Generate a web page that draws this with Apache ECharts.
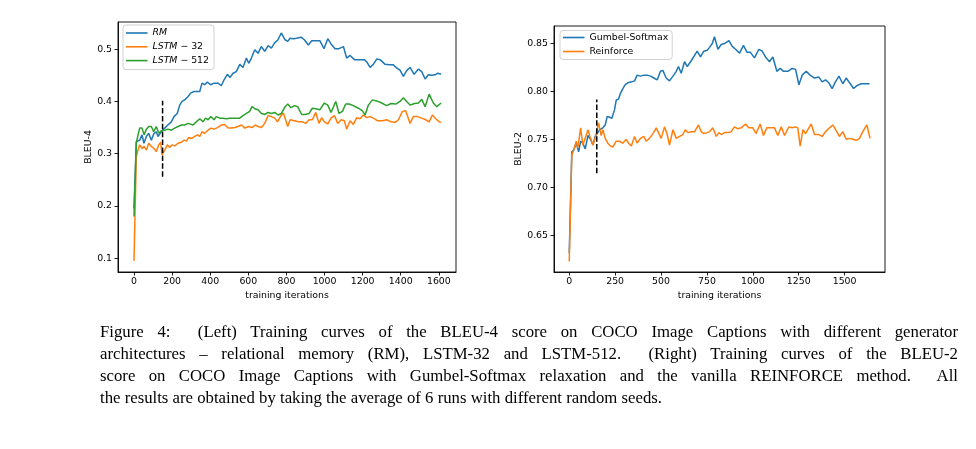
<!DOCTYPE html>
<html>
<head>
<meta charset="utf-8">
<script src="https://cdn.jsdelivr.net/npm/echarts@6/dist/echarts.min.js"></script>
<style>
  html, body { margin: 0; padding: 0; background: #fff; }
  #chart { position: absolute; left: 0; top: 0; width: 976px; height: 449px; }
  #caption {
    position: absolute; left: 100px; top: 320px; width: 858px;
    font-family: "Liberation Serif", "Times New Roman", serif;
    font-size: 17.5px; line-height: 22px; color: #000;
  }
  .cl { white-space: nowrap; height: 22px; transform-origin: left top; }
  .cl.j { text-align: justify; text-align-last: justify; }
  #lastLine { display: inline-block; }
</style>
</head>
<body>
<div id="chart"></div>
<div id="caption">
  <div class="cl j">Figure 4:&nbsp; (Left) Training curves of the BLEU-4 score on COCO Image Captions with different generator</div>
  <div class="cl j">architectures – relational memory (RM), LSTM-32 and LSTM-512.&nbsp; (Right) Training curves of the BLEU-2</div>
  <div class="cl j">score on COCO Image Captions with Gumbel-Softmax relaxation and the vanilla REINFORCE method.&nbsp; All</div>
  <div class="cl"><span id="lastLine">the results are obtained by taking the average of 6 runs with different random seeds.</span></div>
</div>
<script>
// ---------- Left panel: BLEU-4 ----------
const rmIter = [0,12,30,42,52,65,77,91,105,117,126,143,161,178,196,210,227,240,252,266,283,297,315,332,345,357,371,385,402,420,441,458,472,490,504,520,537,555,572,590,602,616,634,651,668,686,704,721,738,756,773,793,807,819,836,854,877,894,915,933,954,976,997,1017,1034,1055,1076,1099,1116,1134,1157,1181,1209,1221,1239,1256,1274,1291,1318,1339,1361,1379,1396,1414,1431,1449,1470,1493,1510,1528,1545,1563,1580,1594,1612];
const rmBleu = [0.195,0.323,0.326,0.336,0.320,0.333,0.339,0.326,0.339,0.342,0.333,0.342,0.349,0.355,0.361,0.371,0.377,0.393,0.400,0.403,0.409,0.416,0.419,0.419,0.419,0.435,0.432,0.437,0.432,0.435,0.435,0.430,0.441,0.452,0.446,0.454,0.457,0.471,0.465,0.483,0.473,0.483,0.499,0.492,0.505,0.496,0.507,0.502,0.512,0.518,0.531,0.518,0.515,0.521,0.520,0.521,0.523,0.518,0.508,0.516,0.516,0.516,0.501,0.520,0.510,0.501,0.501,0.505,0.483,0.488,0.480,0.480,0.480,0.476,0.465,0.471,0.481,0.480,0.471,0.470,0.470,0.464,0.460,0.448,0.459,0.465,0.452,0.462,0.457,0.443,0.451,0.450,0.451,0.454,0.452];

const lstm32Iter = [0,12,21,30,42,53,65,77,91,105,117,130,140,147,161,175,187,200,214,231,249,263,275,287,301,319,333,345,357,371,385,403,420,438,459,476,494,511,529,546,564,581,602,620,637,651,669,686,704,721,739,753,770,784,807,819,842,863,884,901,919,936,954,971,985,999,1017,1034,1052,1069,1087,1104,1116,1134,1151,1169,1186,1204,1221,1239,1256,1279,1304,1326,1349,1370,1388,1409,1426,1449,1466,1489,1510,1531,1549,1566,1584,1601,1612];
const lstm32Bleu = [0.095,0.294,0.307,0.317,0.310,0.314,0.307,0.320,0.314,0.310,0.304,0.317,0.322,0.298,0.307,0.317,0.312,0.317,0.315,0.320,0.322,0.326,0.324,0.331,0.329,0.333,0.336,0.333,0.342,0.339,0.344,0.349,0.347,0.350,0.355,0.356,0.349,0.349,0.350,0.352,0.355,0.349,0.352,0.350,0.355,0.352,0.350,0.358,0.373,0.371,0.368,0.361,0.372,0.378,0.352,0.365,0.363,0.361,0.361,0.358,0.365,0.365,0.379,0.358,0.369,0.361,0.357,0.368,0.373,0.358,0.365,0.363,0.347,0.363,0.356,0.369,0.367,0.374,0.369,0.371,0.368,0.363,0.363,0.365,0.361,0.360,0.365,0.381,0.382,0.358,0.371,0.371,0.368,0.365,0.361,0.374,0.367,0.361,0.360];

const lstm512Iter = [0,12,21,30,42,53,65,77,91,103,117,130,143,161,178,196,214,231,249,266,284,292,310,327,345,362,375,389,403,420,432,450,467,485,502,520,537,555,572,590,607,620,634,651,669,686,704,721,739,756,774,793,807,824,842,859,880,898,919,936,954,975,999,1017,1034,1059,1076,1094,1111,1129,1151,1178,1199,1213,1230,1251,1274,1300,1326,1349,1374,1396,1414,1431,1449,1472,1493,1510,1528,1549,1571,1589,1612];
const lstm512Bleu = [0.180,0.320,0.336,0.349,0.349,0.336,0.347,0.352,0.352,0.342,0.352,0.339,0.344,0.345,0.347,0.345,0.349,0.352,0.355,0.355,0.358,0.361,0.355,0.361,0.367,0.361,0.368,0.365,0.371,0.365,0.371,0.368,0.368,0.367,0.368,0.368,0.368,0.368,0.373,0.377,0.381,0.390,0.386,0.384,0.377,0.375,0.379,0.377,0.379,0.374,0.377,0.390,0.395,0.388,0.392,0.390,0.375,0.375,0.377,0.387,0.386,0.384,0.397,0.393,0.379,0.400,0.377,0.381,0.395,0.395,0.392,0.387,0.382,0.374,0.393,0.403,0.401,0.397,0.392,0.396,0.395,0.400,0.407,0.400,0.393,0.396,0.397,0.404,0.390,0.414,0.397,0.390,0.397];

// ---------- Right panel: BLEU-2 ----------
const gumbelIter = [0,14,25,38,51,62,74,87,102,116,129,141,152,165,183,196,207,220,232,247,256,269,279,292,305,319,341,356,370,388,407,425,443,461,479,497,510,528,546,565,583,595,610,628,643,661,697,715,733,752,764,779,791,810,828,846,870,888,906,928,949,968,986,1009,1033,1051,1069,1091,1109,1131,1149,1167,1191,1214,1233,1251,1269,1291,1312,1336,1360,1378,1396,1414,1432,1450,1469,1490,1509,1527,1549,1567,1590,1614,1636];
const gumbelBleu = [0.631,0.737,0.739,0.746,0.737,0.748,0.746,0.740,0.754,0.750,0.744,0.753,0.756,0.760,0.762,0.765,0.774,0.773,0.772,0.781,0.791,0.792,0.798,0.803,0.807,0.809,0.810,0.811,0.817,0.816,0.817,0.817,0.816,0.814,0.812,0.821,0.822,0.814,0.811,0.816,0.821,0.826,0.819,0.831,0.826,0.831,0.842,0.836,0.842,0.843,0.846,0.850,0.857,0.844,0.849,0.850,0.853,0.847,0.844,0.840,0.848,0.841,0.841,0.835,0.844,0.842,0.836,0.831,0.836,0.821,0.824,0.821,0.821,0.824,0.823,0.807,0.817,0.821,0.817,0.814,0.815,0.810,0.812,0.809,0.803,0.810,0.816,0.808,0.814,0.809,0.803,0.806,0.808,0.808,0.808];

const reinforceIter = [0,14,25,38,47,62,74,87,102,116,129,141,160,174,183,196,210,225,238,256,274,292,310,323,338,356,370,388,407,419,437,456,474,486,501,519,534,546,565,583,601,619,632,646,664,683,704,719,733,752,764,782,801,815,828,846,864,882,900,919,937,960,978,1000,1018,1040,1058,1076,1100,1118,1136,1155,1173,1196,1214,1233,1245,1258,1273,1287,1305,1318,1336,1360,1378,1396,1418,1436,1454,1472,1490,1509,1527,1545,1563,1581,1599,1621,1639];
const reinforceBleu = [0.6225,0.734,0.739,0.748,0.741,0.762,0.744,0.751,0.760,0.751,0.744,0.751,0.767,0.754,0.760,0.751,0.746,0.743,0.742,0.748,0.748,0.746,0.750,0.746,0.743,0.753,0.746,0.751,0.753,0.748,0.751,0.756,0.762,0.757,0.751,0.763,0.755,0.744,0.760,0.751,0.753,0.755,0.760,0.757,0.758,0.758,0.765,0.758,0.756,0.757,0.758,0.762,0.753,0.757,0.755,0.757,0.757,0.758,0.763,0.761,0.762,0.766,0.762,0.762,0.756,0.766,0.754,0.762,0.762,0.762,0.754,0.763,0.754,0.763,0.762,0.763,0.762,0.743,0.760,0.756,0.762,0.766,0.755,0.755,0.753,0.758,0.762,0.765,0.759,0.753,0.758,0.750,0.751,0.750,0.749,0.751,0.758,0.765,0.751];

// ---------- Ticks, markers ----------
const leftXTicks = [0,200,400,600,800,1000,1200,1400,1600];
const leftYTicks = [0.1,0.2,0.3,0.4,0.5];
const rightXTicks = [0,250,500,750,1000,1250,1500];
const rightYTicks = [0.65,0.70,0.75,0.80,0.85];
const switchIter = 150;
const leftSwitchRange = [0.256, 0.4015];
const rightSwitchRange = [0.7146, 0.7917];

const pairs = (xs, ys) => xs.map((x, i) => [x, ys[i]]);

const FONT = 'DejaVu Sans';
const FS = 9.35;
const C_BLUE = '#1f77b4', C_ORANGE = '#ff7f0e', C_GREEN = '#2ca02c';

function xAxisCfg(gridIndex, min, max, ticks) {
  return {
    gridIndex, type: 'value', min, max,
    name: 'training iterations', nameLocation: 'middle', nameGap: 18,
    nameTextStyle: { fontFamily: FONT, fontSize: FS, color: '#000' },
    axisLine: { show: true, onZero: false, lineStyle: { color: '#000', width: 0.9 } },
    axisTick: { show: true, inside: false, length: 3.5, customValues: ticks, lineStyle: { color: '#000', width: 0.9 } },
    axisLabel: { show: true, customValues: ticks, margin: 5, fontFamily: FONT, fontSize: FS, color: '#000',
                 formatter: v => String(Math.round(v)) },
    splitLine: { show: false }
  };
}
function yAxisCfg(gridIndex, min, max, ticks, name, gap, dec) {
  return {
    gridIndex, type: 'value', min, max,
    name, nameLocation: 'middle', nameGap: gap,
    nameTextStyle: { fontFamily: FONT, fontSize: FS, color: '#000' },
    axisLine: { show: true, onZero: false, lineStyle: { color: '#000', width: 0.9 } },
    axisTick: { show: true, inside: false, length: 3.5, customValues: ticks, lineStyle: { color: '#000', width: 0.9 } },
    axisLabel: { show: true, customValues: ticks, margin: 6, fontFamily: FONT, fontSize: FS, color: '#000',
                 formatter: v => v.toFixed(dec) },
    splitLine: { show: false }
  };
}
function lineSeries(name, color, xi, yi, xs, ys) {
  return {
    name, type: 'line', xAxisIndex: xi, yAxisIndex: yi,
    data: pairs(xs, ys), showSymbol: false, symbol: 'none',
    lineStyle: { color, width: 1.5 }, itemStyle: { color },
    emphasis: { disabled: true }, animation: false, z: 2
  };
}
function dashSeries(xi, yi, range) {
  return {
    name: '_switch', type: 'line', xAxisIndex: xi, yAxisIndex: yi,
    data: range.map(v => [switchIter, v]), showSymbol: false, symbol: 'none',
    lineStyle: { color: '#000', width: 1.5, type: [5.5, 2.4] },
    emphasis: { disabled: true }, animation: false, z: 5, silent: true
  };
}

const legendRich = {
  i: { fontFamily: FONT, fontSize: FS, fontStyle: 'italic', color: '#000' },
  n: { fontFamily: FONT, fontSize: FS, color: '#000' }
};

const option = {
  backgroundColor: '#fff',
  animation: false,
  grid: [
    { left: 118, top: 22, width: 338, height: 250, show: true, borderColor: '#000', borderWidth: 0.9, backgroundColor: 'transparent' },
    { left: 554, top: 26, width: 331, height: 246, show: true, borderColor: '#000', borderWidth: 0.9, backgroundColor: 'transparent' }
  ],
  xAxis: [
    xAxisCfg(0, -84, 1690, leftXTicks),
    xAxisCfg(1, -83, 1720, rightXTicks)
  ],
  yAxis: [
    yAxisCfg(0, 0.0737, 0.552, leftYTicks, 'BLEU-4', 25, 1),
    yAxisCfg(1, 0.6115, 0.8683, rightYTicks, 'BLEU-2', 30, 2)
  ],
  legend: [
    {
      data: ['RM', 'LSTM−32', 'LSTM−512'], orient: 'vertical', left: 123, top: 25,
      padding: [3, 5, 4, 3], itemGap: 3.8, itemWidth: 21.5, itemHeight: 1.6, icon: 'rect',
      backgroundColor: 'rgba(255,255,255,0.8)', borderColor: '#cccccc', borderWidth: 0.9, borderRadius: 3,
      textStyle: { fontFamily: FONT, fontSize: FS, color: '#000', lineHeight: 10, rich: legendRich },
      formatter: name => {
        const m = name.match(/^([A-Z]+)(?:−(\d+))?$/);
        return m[2] ? '{i|' + m[1] + '} − {n|' + m[2] + '}' : '{i|' + m[1] + '}';
      },
      selectedMode: false
    },
    {
      data: ['Gumbel-Softmax', 'Reinforce'], orient: 'vertical', left: 560, top: 30.5,
      padding: [2, 4, 3, 3], itemGap: 4, itemWidth: 21.5, itemHeight: 1.6, icon: 'rect',
      backgroundColor: 'rgba(255,255,255,0.8)', borderColor: '#cccccc', borderWidth: 0.9, borderRadius: 3,
      textStyle: { fontFamily: FONT, fontSize: FS, color: '#000', lineHeight: 10 },
      selectedMode: false
    }
  ],
  series: [
    lineSeries('RM', C_BLUE, 0, 0, rmIter, rmBleu),
    lineSeries('LSTM−32', C_ORANGE, 0, 0, lstm32Iter, lstm32Bleu),
    lineSeries('LSTM−512', C_GREEN, 0, 0, lstm512Iter, lstm512Bleu),
    dashSeries(0, 0, leftSwitchRange),
    lineSeries('Gumbel-Softmax', C_BLUE, 1, 1, gumbelIter, gumbelBleu),
    lineSeries('Reinforce', C_ORANGE, 1, 1, reinforceIter, reinforceBleu),
    dashSeries(1, 1, rightSwitchRange)
  ]
};

const chart = echarts.init(document.getElementById('chart'), null, { renderer: 'canvas' });
chart.setOption(option);

// Caption: fit lines horizontally like the typeset original (last line ends near x=662)
(function fitCaption() {
  const fullW = 858, lastW = 562;
  const natural = document.getElementById('lastLine').getBoundingClientRect().width;
  const s = lastW / natural;
  document.querySelectorAll('#caption .cl').forEach(el => {
    el.style.transform = 'scaleX(' + s + ')';
    el.style.width = (fullW / s) + 'px';
  });
})();
</script>
</body>
</html>
